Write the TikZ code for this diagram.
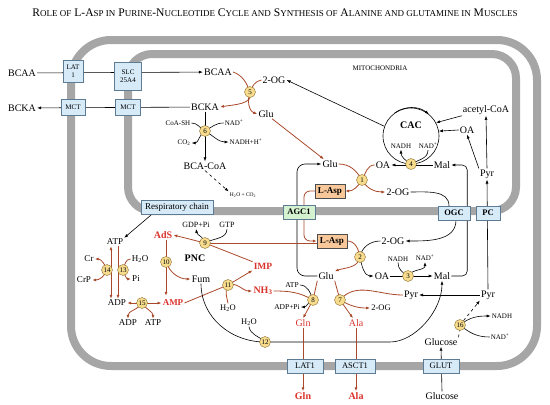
\documentclass[tikz,border=0pt]{standalone}
\usepackage{fontspec}
\setmainfont{Liberation Serif}
\usetikzlibrary{arrows.meta,positioning}
\definecolor{memb}{HTML}{A6A6A6}
\definecolor{tpfill}{HTML}{D6EAF8}
\definecolor{tpdraw}{HTML}{5D7B93}
\definecolor{aspfill}{HTML}{F8C89A}
\definecolor{agcfill}{HTML}{D4F2D0}
\definecolor{enzfill}{HTML}{F7DC8E}
\definecolor{enzdraw}{HTML}{8C6B2E}
\definecolor{rxn}{HTML}{A9492A}
\definecolor{redtxt}{HTML}{D9332B}
\pgfdeclarelayer{membl}
\pgfdeclarelayer{linel}
\pgfsetlayers{membl,linel,main}
\newcommand\ttlsc[1]{{\fontsize{9}{10}\selectfont #1}}

\begin{document}
\begin{tikzpicture}[x=1pt,y=1pt,
  met/.style={inner sep=1pt,font=\fontsize{10}{11}\selectfont},
  sm/.style={inner sep=1pt,font=\fontsize{7}{8}\selectfont},
  smb/.style={inner sep=1pt,font=\fontsize{8.5}{9}\selectfont},
  xs/.style={inner sep=1pt,font=\fontsize{5.5}{6}\selectfont},
  hot/.style={inner sep=1pt,text=redtxt,font=\fontsize{10}{11}\selectfont\bfseries},
  hotl/.style={inner sep=1pt,text=redtxt,font=\fontsize{10}{11}\selectfont},
  enz/.style={circle,draw=enzdraw,fill=enzfill,inner sep=0pt,minimum size=11pt,font=\fontsize{7}{7}\selectfont},
  tp/.style={draw=tpdraw,fill=tpfill,inner sep=1pt,align=center,minimum height=14pt,font=\fontsize{7}{7.5}\selectfont},
  tpb/.style={tp,font=\fontsize{8.5}{9}\selectfont},
  asp/.style={draw=black!70,fill=aspfill,inner sep=1pt,minimum width=30pt,minimum height=14pt,font=\fontsize{9}{10}\selectfont\bfseries},
  membrane/.style={draw=memb,line width=8pt},
  ln/.style={black,line width=0.6pt},
  rln/.style={rxn,line width=0.8pt},
  arr/.style={ln,-{Latex[length=4pt,width=3pt]}},
  rarr/.style={rln,-{Latex[length=4pt,width=3pt]}},
  rarrb/.style={rln,{Latex[length=4pt,width=3pt]}-{Latex[length=4pt,width=3pt]}}]
\useasboundingbox (0,0) rectangle (550,-405);

\node[font=\fontsize{11.6}{13}\selectfont] (title) at (275,-13)
  {R\ttlsc{OLE OF} L-A\ttlsc{SP IN} P\ttlsc{URINE}-N\ttlsc{UCLEOTIDE} C\ttlsc{YCLE AND} S\ttlsc{YNTHESIS OF} A\ttlsc{LANINE AND GLUTAMINE IN} M\ttlsc{USCLES}};

\begin{pgfonlayer}{membl}
\draw[membrane,rounded corners=40pt] (71,-40) rectangle (537,-366);
\draw[membrane,rounded corners=24pt] (128,-54) rectangle (516,-211);
\end{pgfonlayer}

% BCAA side
\node[met] (bcaao) at (22,-73) {BCAA};
\node[met] (bckao) at (22,-108) {BCKA};
\node[met] (bcaa) at (218,-72) {BCAA};
\node[met] (bcka) at (205,-107) {BCKA};
\node[met] (og5) at (274,-80) {2-OG};
\node[met] (glu5) at (266,-114) {Glu};
\node[enz] (n5) at (250,-92) {5};
\node[sm] (coash) at (178,-123) {CoA-SH};
\node[sm] (nadp6) at (234,-123) {NAD\textsuperscript{+}};
\node[sm] (co2) at (184,-143) {CO\textsubscript{2}};
\node[sm] (nadh6) at (246,-142) {NADH+H\textsuperscript{+}};
\node[enz] (n6) at (205,-131) {6};
\node[met] (bcacoa) at (205,-166) {BCA-CoA};
\node[xs] (h2oco2) at (243,-195) {H\textsubscript{2}O + CO\textsubscript{2}};
\node[sm] (mito) at (380,-68) {MITOCHONDRIA};

% CAC
\node[circle,draw,line width=0.6pt,minimum size=56pt,inner sep=0pt] (cac) at (411,-136) {};
\node[font=\fontsize{10}{11}\selectfont\bfseries] (caclbl) at (411,-125) {CAC};
\node[sm] (nadh4) at (401,-146) {NADH};
\node[sm] (nad4) at (428,-146) {NAD\textsuperscript{+}};
\node[enz] (n4) at (411,-164) {4};
\node[met] (oa4) at (383,-165) {OA};
\node[met] (mal4) at (442,-165) {Mal};
\node[met] (accoa) at (486,-110) {acetyl-CoA};
\node[met] (oar) at (467,-130) {OA};
\node[met] (pyru) at (487,-174) {Pyr};
\node[met] (glu1) at (330,-164) {Glu};
\node[enz] (n1) at (362,-180) {1};
\node[asp] (asp1) at (330,-191) {L-Asp};
\node[met] (og1) at (398,-192) {2-OG};

% carriers
\node[tp,minimum width=20pt,minimum height=22pt] (lat) at (73,-71) {LAT\\1};
\node[tp,minimum width=24pt,minimum height=16pt] (mcto) at (73,-107) {MCT};
\node[tp,minimum width=27pt,minimum height=28pt] (slc) at (128,-76) {SLC\\25A4};
\node[tp,minimum width=25pt,minimum height=16pt] (mcti) at (128,-107) {MCT};
\node[tpb,font=\fontsize{9}{10}\selectfont,minimum width=72pt] (resp) at (177,-207) {Respiratory chain};
\node[tpb,fill=agcfill,font=\fontsize{8.5}{9}\selectfont\bfseries,minimum width=32pt] (agc) at (299,-212) {AGC1};
\node[tpb,font=\fontsize{8.5}{9}\selectfont\bfseries,minimum width=32pt] (ogc) at (454,-213) {OGC};
\node[tpb,font=\fontsize{8.5}{9}\selectfont\bfseries,minimum width=24pt] (pc) at (488,-213) {PC};
\node[tpb,minimum width=36pt] (lat1) at (305,-366) {LAT1};
\node[tpb,minimum width=40pt] (asct) at (355,-366) {ASCT1};
\node[tpb,minimum width=36pt] (glut) at (441,-366) {GLUT};

% cytosol
\node[asp] (asp2) at (332,-241) {L-Asp};
\node[met] (og2) at (393,-241) {2-OG};
\node[enz] (n2) at (360,-257) {2};
\node[met] (oa2) at (382,-276) {OA};
\node[enz] (n3) at (408,-276) {3};
\node[met] (mal2) at (442,-276) {Mal};
\node[sm] (nadh3) at (398,-259) {NADH};
\node[sm] (nad3) at (425,-258) {NAD\textsuperscript{+}};
\node[met] (glu2) at (326,-276) {Glu};
\node[enz] (n9) at (205,-243) {9};
\node[hot] (ads) at (163,-235) {AdS};
\node[hot,font=\fontsize{9.5}{10}\selectfont\bfseries] (imp) at (263,-266) {IMP};
\node[smb,font=\fontsize{8}{9}\selectfont] (gdp) at (196,-225) {GDP+Pi};
\node[smb,font=\fontsize{8}{9}\selectfont] (gtp) at (227,-225) {GTP};
\node[font=\fontsize{10}{11}\selectfont\bfseries] (pnc) at (195,-258) {PNC};
\node[enz] (n10) at (166,-262) {10};
\node[met] (fum) at (201,-279) {Fum};
\node[enz] (n11) at (228,-285) {11};
\node[smb] (h2o11) at (228,-308) {H\textsubscript{2}O};
\node[hot] (nh3) at (263,-291) {NH\textsubscript{3}};
\node[smb,font=\fontsize{7.5}{8}\selectfont] (atp8) at (292,-285) {ATP};
\node[smb,font=\fontsize{7.5}{8}\selectfont] (adppi) at (287,-307) {ADP+Pi};
\node[enz] (n8) at (313,-300) {8};
\node[enz] (n7) at (340,-300) {7};
\node[smb] (og7) at (381,-308) {2-OG};
\node[hotl] (gln) at (303,-323) {Gln};
\node[hotl] (ala) at (356,-323) {Ala};
\node[met] (pyrl) at (411,-295) {Pyr};
\node[met] (pyrr) at (488,-295) {Pyr};
\node[enz] (n16) at (460,-325) {16};
\node[sm] (nadh16) at (502,-316) {NADH};
\node[sm] (nad16) at (500,-337) {NAD\textsuperscript{+}};
\node[met] (glc) at (441,-342) {Glucose};
\node[enz] (n12) at (265,-342) {12};
\node[smb] (h2o12) at (249,-322) {H\textsubscript{2}O};
\node[hot] (glno) at (303,-396) {Gln};
\node[hot] (alao) at (356,-396) {Ala};
\node[met] (glco) at (442,-396) {Glucose};

% energy
\node[smb,font=\fontsize{9}{10}\selectfont] (atp) at (115,-242) {ATP};
\node[smb,font=\fontsize{9}{10}\selectfont] (cr) at (89,-259) {Cr};
\node[smb,font=\fontsize{9}{10}\selectfont] (crp) at (84,-280) {CrP};
\node[smb,font=\fontsize{9}{10}\selectfont] (h2o13) at (140,-259) {H\textsubscript{2}O};
\node[smb,font=\fontsize{9}{10}\selectfont] (phos) at (136,-279) {Pi};
\node[enz] (n14) at (107,-270) {14};
\node[enz] (n13) at (123,-270) {13};
\node[smb,font=\fontsize{9}{10}\selectfont] (adp) at (117,-303) {ADP};
\node[enz] (n15) at (142,-303) {15};
\node[hot,font=\fontsize{9}{10}\selectfont\bfseries] (amp) at (173,-303) {AMP};
\node[smb,font=\fontsize{9}{10}\selectfont] (adpl) at (128,-323) {ADP};
\node[smb,font=\fontsize{9}{10}\selectfont] (atpl) at (153,-323) {ATP};

\begin{pgfonlayer}{linel}
\draw[arr] (bcaao) -- (bcaa);
\draw[arr] (bcka) -- (bckao);
\draw[rarr] (bcaa.east) to[out=-20,in=110] (n5.center) to[out=-70,in=10] (bcka.east);
\draw[rarr] (og5.west) to[out=190,in=70] (n5.center) to[out=-110,in=160] (glu5.west);
\draw[arr] (bcka) -- (bcacoa);
\draw[ln] (coash.east) to[out=0,in=150] (n6.center);
\draw[arr] (n6.center) to[out=-150,in=0] (co2.east);
\draw[ln] (nadp6.west) to[out=180,in=30] (n6.center);
\draw[arr] (n6.center) to[out=-30,in=180] (nadh6.west);
\draw[arr,dashed] (bcacoa.south) -- (h2oco2.north west);
\draw[rarr] (glu5) -- (glu1);
% CAC
\draw[arr] (cac.125) arc[start angle=125,end angle=50,radius=28pt];
\draw[arr] (cac.160) -- (og5.east);
\draw[arr] (accoa.south west) -- (cac.28);
\draw[arr] (oar.west) -- (cac.10);
\draw[arr] (pyru.north) -- (accoa.south);
\draw[arr] (pyru.north west) -- (oar.south);
\draw[arr] (mal4.west) -- (oa4.east);
\draw[arr] (n4.center) to[out=150,in=-90] (nadh4.south);
\draw[ln] (nad4.south) to[out=-90,in=30] (n4.center);
\draw[rarr] (glu1.east) to[out=0,in=120] (n1.center) to[out=-120,in=0] (asp1.east);
\draw[rarr] (oa4.west) to[out=180,in=60] (n1.center) to[out=-60,in=180] (og1.west);
% shuttles
\draw[ln] (og1.east) to[out=0,in=90] ([xshift=-5pt]ogc.north);
\draw[arr] ([xshift=2pt]ogc.south) to[out=-90,in=0] (og2.east);
\draw[arr,rounded corners=5pt] (mal2.east) -- ++(16,0) |- (mal4.east);
\draw[arr,rounded corners=8pt] (glu2.west) -| ([xshift=-2pt]agc.center) |- (glu1.west);
\draw[rarr,rounded corners=6pt] (asp1.west) -| ([xshift=5pt]agc.center) |- (asp2.west);
% PNC
\draw[rln] ([yshift=-2pt]asp2.west) -- (n9.center);
\draw[rarr] (imp.north west) -- (n9.center) -- (ads.east);
\draw[arr] (n9.center) to[out=100,in=-80] (gdp.south);
\draw[ln] (gtp.south) to[out=-90,in=30] (n9.center);
\draw[rarr,shorten >=3pt] (n10 |- ads.south) -- (n10 |- amp.north);
\draw[rarr] (n10.center) to[out=-70,in=180] (fum.west);
\draw[rarr] (amp.east) -- (n11.center) -- (imp.south west);
\draw[rln] (h2o11.north) to[out=100,in=-120] (n11.center);
\draw[rarr] (n11.center) to[out=20,in=180] (nh3.west);
% Gln and Ala
\draw[rln] (nh3.east) to[out=0,in=150] (n8.center);
\draw[ln] (atp8.east) to[out=0,in=110] (n8.center);
\draw[arr] (n8.center) to[out=-160,in=0] (adppi.east);
\draw[rarr] (glu2.south west) -- (n8.center) -- (gln.north);
\draw[rarr] (glu2.south east) -- (n7.center) -- ([xshift=-3pt]ala.north);
\draw[rarr] (pyrl.west) to[out=180,in=50] (n7.center) to[out=-30,in=180] (og7.west);
\draw[rarr] (asp2.east) to[out=0,in=100] (n2.center) to[out=-100,in=20] (glu2.north east);
\draw[arr] (og2.west) to[out=180,in=80] (n2.center) to[out=-80,in=180] (oa2.west);
\draw[arr] (oa2.east) -- (mal2.west);
\draw[ln] (nadh3.south) to[out=-90,in=150] (n3.center);
\draw[arr] (n3.center) to[out=60,in=-90] (nad3.south);
\draw[ln] (fum.south) to[out=-90,in=180] (n12.center);
\draw[arr] (n12.center) -- ++(125,0) .. controls +(25,0) and +(0,-30) .. (mal2.south);
\draw[ln] (h2o12.south) to[out=-80,in=135] (n12.center);
% pyruvate and glucose
\draw[arr] (pyrr.west) -- (pyrl.east);
\draw[arr] (pyrr.north) -- (pyru.south);
\draw[arr,dashed] (glc.north east) -- (n16.center) -- (pyrr.south west);
\draw[arr] (n16.center) to[out=40,in=180] (nadh16.west);
\draw[ln] (nad16.west) to[out=180,in=-40] (n16.center);
\draw[arr] (glco.north) -- (glc.south);
\draw[rarr] (gln.south) -- (glno.north);
\draw[rarr] (ala.south) -- (alao.north);
% energy
\draw[arr] ([xshift=-25pt]resp.south) -- (atp.north east);
\draw[rarrb] ([xshift=-4pt]atp.south) -- ([xshift=-4pt]atp.south |- adp.north);
\draw[rarr] ([xshift=3pt]atp.south) -- ([xshift=3pt]atp.south |- adp.north);
\draw[rarrb] (cr.east) to[out=0,in=110] (n14.center) to[out=-110,in=0] (crp.east);
\draw[rarr] (h2o13.west) to[out=180,in=70] (n13.center) to[out=-70,in=180] (phos.west);
\draw[rarrb] (adp.east) -- (amp.west);
\draw[rarr] (n15.center) to[out=-120,in=90] (adpl.north);
\draw[rarr] (n15.center) to[out=-60,in=90] (atpl.north);
\end{pgfonlayer}
\end{tikzpicture}
\end{document}
